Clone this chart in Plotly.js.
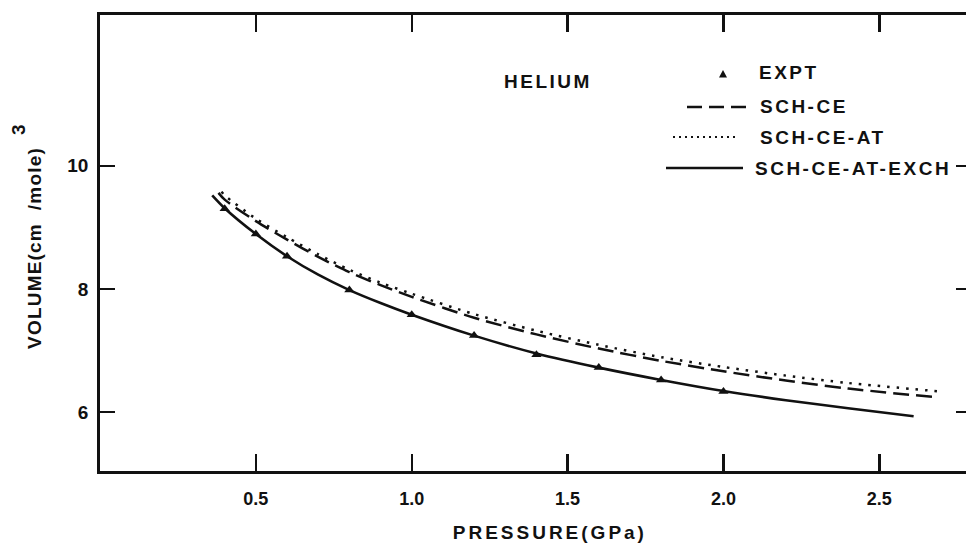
<!DOCTYPE html>
<html>
<head>
<meta charset="utf-8">
<script src="https://cdn.plot.ly/plotly-3.0.1.min.js"></script>
<style>
html,body{margin:0;padding:0;background:#fff;}
#chart{width:966px;height:550px;}
.annotation-text{letter-spacing:2.5px;}
.annotation[data-index="5"] .annotation-text{letter-spacing:3px;}
.annotation[data-index="6"] .annotation-text{letter-spacing:1.2px;}
</style>
</head>
<body>
<div id="chart"></div>
<script>
// ---- data ----
const pressureExpt = [0.4, 0.5, 0.6, 0.8, 1.0, 1.2, 1.4, 1.6, 1.8, 2.0];
const volumeExpt   = [9.30, 8.89, 8.53, 7.98, 7.58, 7.24, 6.93, 6.72, 6.52, 6.33];

const pressureSchCe = [0.38, 0.4, 0.5, 0.6, 0.7, 0.8, 0.9, 1.0, 1.2, 1.4, 1.6, 1.8, 2.0, 2.2, 2.4, 2.68];
const volumeSchCe   = [9.56, 9.45, 9.10, 8.80, 8.52, 8.27, 8.06, 7.87, 7.53, 7.26, 7.03, 6.83, 6.66, 6.51, 6.38, 6.24];

const pressureSchCeAt = [0.39, 0.4, 0.5, 0.6, 0.7, 0.8, 0.9, 1.0, 1.2, 1.4, 1.6, 1.8, 2.0, 2.2, 2.4, 2.7];
const volumeSchCeAt   = [9.58, 9.52, 9.14, 8.84, 8.56, 8.31, 8.10, 7.92, 7.59, 7.32, 7.09, 6.89, 6.73, 6.59, 6.47, 6.33];

const pressureSchCeAtExch = [0.36, 0.4, 0.5, 0.6, 0.7, 0.8, 0.9, 1.0, 1.2, 1.4, 1.6, 1.8, 2.0, 2.2, 2.4, 2.61];
const volumeSchCeAtExch   = [9.52, 9.31, 8.89, 8.53, 8.23, 7.98, 7.77, 7.58, 7.24, 6.95, 6.72, 6.52, 6.34, 6.19, 6.06, 5.93];

const xTickVals = [0.5, 1.0, 1.5, 2.0, 2.5];
const xTickText = ['0.5', '1.0', '1.5', '2.0', '2.5'];
const yTickVals = [6, 8, 10];
const yTickText = ['6', '8', '10'];

const seriesNames = ['EXPT', 'SCH-CE', 'SCH-CE-AT', 'SCH-CE-AT-EXCH'];
const panelLabel = 'HELIUM';
const xTitle = 'PRESSURE(GPa)';
const yTitleMain = 'VOLUME(cm  /mole)';
const yTitleSup = '3';

// ---- layout geometry (pixels) ----
const W = 966, H = 550;
const M = {l: 100, r: 0, t: 15, b: 79};
const PW = W - M.l - M.r, PH = H - M.t - M.b;
const px = x => (x - M.l) / PW;          // pixel -> paper x
const py = y => (H - M.b - y) / PH;      // pixel -> paper y

const FONT = 'Liberation Sans, Arial, Helvetica, sans-serif';
const INK = '#111';

const traces = [
  {x: pressureSchCeAtExch, y: volumeSchCeAtExch, name: seriesNames[3], mode: 'lines',
   line: {color: INK, width: 2.6, shape: 'spline', smoothing: 0.8}},
  {x: pressureSchCe, y: volumeSchCe, name: seriesNames[1], mode: 'lines',
   line: {color: INK, width: 2.5, dash: '16px,7px', shape: 'spline', smoothing: 0.8}},
  {x: pressureSchCeAt, y: volumeSchCeAt, name: seriesNames[2], mode: 'lines',
   line: {color: INK, width: 2.5, dash: '2.5px,7px', shape: 'spline', smoothing: 0.8}},
  {x: pressureExpt, y: volumeExpt, name: seriesNames[0], mode: 'markers',
   marker: {symbol: 'triangle-up', size: 9, color: INK}},
  {x: [null], y: [null], yaxis: 'y2', mode: 'lines', showlegend: false, hoverinfo: 'skip'}
];

function txt(text, x, y, anchor, extra) {
  return Object.assign({text: text, xref: 'paper', yref: 'paper', x: px(x), y: py(y),
    xanchor: anchor, yanchor: 'middle', showarrow: false,
    font: {family: FONT, size: 19, color: INK, weight: 'bold'}}, extra || {});
}

const annotations = [
  txt(panelLabel, 548, 82, 'center'),
  txt(seriesNames[0], 757, 73, 'left'),
  txt(seriesNames[1], 758, 107, 'left'),
  txt(seriesNames[2], 758, 137, 'left'),
  txt(seriesNames[3], 753, 168, 'left'),
  txt(xTitle, 550, 532, 'center'),
  txt(yTitleMain, 34, 248, 'center', {textangle: -90}),
  txt(yTitleSup, 18, 129, 'center', {textangle: -90})
];

const shapes = [
  // legend samples
  {type: 'path', xref: 'paper', yref: 'paper',
   path: 'M ' + px(719) + ' ' + py(77.5) + ' L ' + px(727) + ' ' + py(77.5) + ' L ' + px(723) + ' ' + py(70) + ' Z',
   fillcolor: INK, line: {width: 0}},
  {type: 'line', xref: 'paper', yref: 'paper', x0: px(687), x1: px(747), y0: py(107), y1: py(107),
   line: {color: INK, width: 2.4, dash: '15px,7px'}},
  {type: 'line', xref: 'paper', yref: 'paper', x0: px(673), x1: px(738), y0: py(137), y1: py(137),
   line: {color: INK, width: 2, dash: '2px,4px'}},
  {type: 'line', xref: 'paper', yref: 'paper', x0: px(666), x1: px(743), y0: py(168), y1: py(168),
   line: {color: INK, width: 2.4}}
];

const yRange = [5.04, 12.45];

const layout = {
  width: W, height: H,
  margin: M,
  paper_bgcolor: '#fff', plot_bgcolor: '#fff',
  showlegend: false,
  font: {family: FONT, color: INK},
  xaxis: {range: [0, 2.778], tickvals: xTickVals, ticktext: xTickText,
    ticks: 'inside', ticklen: 17, tickwidth: 2.4, tickcolor: INK,
    showline: true, linewidth: 2.8, linecolor: INK, mirror: 'ticks',
    showgrid: false, zeroline: false, ticklabelstandoff: 10,
    tickfont: {family: FONT, size: 18, color: INK, weight: 'bold'}},
  yaxis: {range: yRange, tickvals: yTickVals, ticktext: yTickText,
    ticks: 'inside', ticklen: 15, tickwidth: 2.4, tickcolor: INK,
    showline: true, linewidth: 2.8, linecolor: INK,
    showgrid: false, zeroline: false, ticklabelstandoff: 5,
    tickfont: {family: FONT, size: 19, color: INK, weight: 'bold'}},
  yaxis2: {range: yRange, overlaying: 'y', side: 'right', tickvals: yTickVals,
    ticks: 'inside', ticklen: 10, tickwidth: 2.4, tickcolor: INK,
    showline: false, showticklabels: false, showgrid: false, zeroline: false},
  annotations: annotations,
  shapes: shapes
};

Plotly.newPlot('chart', traces, layout, {staticPlot: true, displayModeBar: false});
</script>
</body>
</html>
